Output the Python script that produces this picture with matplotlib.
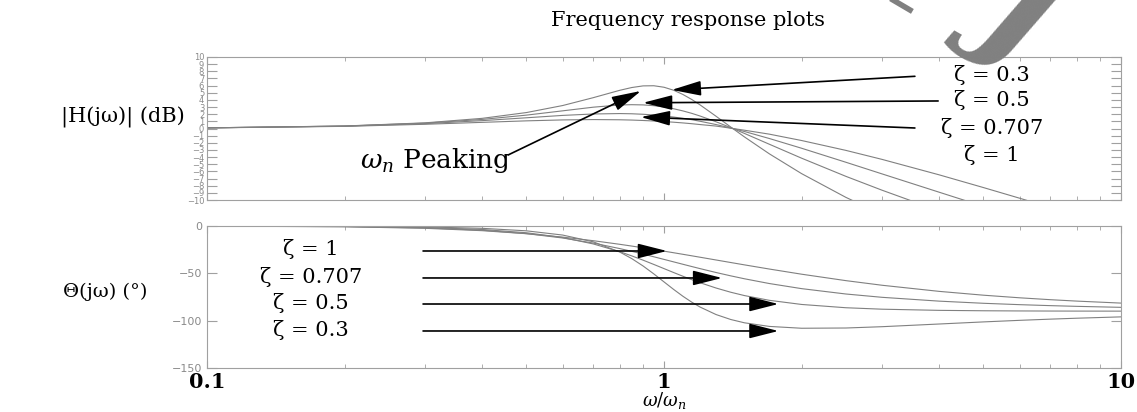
import matplotlib
matplotlib.use('Agg')
import matplotlib.pyplot as plt
from matplotlib.lines import Line2D

plt.rcParams['mathtext.fontset'] = 'dejavuserif'

# frequency ratio w/wn and the read-off curves for each damping ratio
omega = [0.1, 0.2, 0.3, 0.4, 0.5, 0.6, 0.7, 0.8, 0.85, 0.9, 0.95, 1.0, 1.05, 1.1, 1.15,
         1.2, 1.3, 1.4, 1.5, 1.7, 2.0, 2.5, 3.0, 4.0, 5.0, 6.0, 7.0, 8.0, 10.0]
zetas = ['0.3', '0.5', '0.707', '1']

mag_03 = [0.09, 0.35, 0.79, 1.42, 2.23, 3.21, 4.31, 5.34, 5.73, 5.96, 5.98, 5.77, 5.35, 4.76,
          4.06, 3.29, 1.71, 0.20, -1.18, -3.54, -6.31, -9.63, -12.00, -15.33, -17.67, -19.48,
          -20.95, -22.20, -24.25]
mag_05 = [0.09, 0.34, 0.75, 1.27, 1.87, 2.47, 2.98, 3.29, 3.33, 3.30, 3.19, 3.01, 2.76, 2.46,
          2.12, 1.74, 0.94, 0.12, -0.69, -2.20, -4.15, -6.69, -8.63, -11.52, -13.64, -15.33,
          -16.73, -17.93, -19.91]
mag_0707 = [0.09, 0.33, 0.68, 1.10, 1.50, 1.83, 2.03, 2.09, 2.06, 1.99, 1.89, 1.76, 1.60, 1.42,
            1.23, 1.01, 0.55, 0.07, -0.42, -1.40, -2.76, -4.72, -6.35, -8.91, -10.89, -12.50,
            -13.85, -15.02, -16.97]
mag_1 = [0.08, 0.30, 0.59, 0.86, 1.07, 1.20, 1.25, 1.22, 1.18, 1.12, 1.05, 0.97, 0.88, 0.78,
         0.67, 0.55, 0.34, 0.04, -0.24, -0.79, -1.68, -3.06, -4.32, -6.48, -8.26, -9.75,
         -11.03, -12.16, -14.05]

ph_03 = [-0.03, -0.28, -0.99, -2.45, -5.10, -9.56, -16.69, -27.49, -34.43, -42.25, -50.61,
         -59.04, -67.03, -74.23, -80.45, -85.68, -93.55, -98.78, -102.26, -106.07, -108.01,
         -107.75, -106.37, -103.53, -101.31, -99.65, -98.39, -97.41, -95.99]
ph_05 = [-0.06, -0.46, -1.55, -3.66, -7.13, -12.19, -18.93, -27.11, -31.56, -36.09, -40.61,
         -45.00, -49.18, -53.08, -56.68, -59.95, -65.52, -69.98, -73.50, -78.50, -82.87,
         -86.34, -87.88, -89.11, -89.54, -89.73, -89.83, -89.89, -89.94]
ph_0707 = [-0.08, -0.62, -2.01, -4.47, -8.05, -12.66, -18.03, -23.83, -26.76, -29.67, -32.52,
           -35.27, -37.91, -40.43, -42.81, -45.05, -49.13, -52.67, -55.75, -60.77, -66.16,
           -71.83, -75.33, -79.37, -81.64, -83.09, -84.12, -84.87, -85.92]
ph_1 = [-0.11, -0.82, -2.43, -4.94, -8.13, -11.73, -15.52, -19.33, -21.20, -23.03, -24.82,
        -26.57, -28.26, -29.90, -31.48, -33.01, -35.90, -38.58, -41.06, -45.46, -50.91,
        -57.71, -62.59, -69.05, -73.09, -75.84, -77.83, -79.33, -81.44]

mags = [mag_03, mag_05, mag_0707, mag_1]
phases = [ph_03, ph_05, ph_0707, ph_1]

W, H = 1137, 412
def fx(x): return x / W
def fy(y): return 1 - y / H

GREY = '#8a8a8a'
SERIF = 'DejaVu Serif'

fig = plt.figure(figsize=(W / 100, H / 100), dpi=100)
ax1 = fig.add_axes([fx(207), fy(200), (1121 - 207) / W, 143 / H])
ax2 = fig.add_axes([fx(207), fy(368), (1121 - 207) / W, 142 / H])

for m in mags:
  ax1.plot(omega, m, color='#808080', lw=0.8)
for p in phases:
  ax2.plot(omega, p, color='#808080', lw=0.8)

for ax in (ax1, ax2):
  ax.set_xscale('log')
  ax.set_xlim(0.1, 10)
  for s in ax.spines.values():
    s.set_color('#a0a0a0')
  ax.tick_params(which='both', direction='in', top=True, right=True, colors='#a0a0a0',
                 labelcolor=GREY, labelsize=8)
  ax.tick_params(axis='x', which='major', length=5)
  ax.tick_params(axis='x', which='minor', length=3)
  ax.tick_params(axis='y', which='major', length=7)

ax1.set_ylim(-10, 10)
ax1.set_yticks(range(-10, 11))
ax1.tick_params(axis='y', labelsize=6, pad=2)
ax1.set_xticks([0.1, 1, 10])
ax1.tick_params(axis='x', which='both', labelbottom=False)

ax2.set_ylim(-150, 0)
ax2.set_yticks([0, -50, -100, -150])
ax2.set_xticks([0.1, 1, 10])
ax2.set_xticklabels(['0.1', '1', '10'], fontfamily=SERIF, fontweight='bold',
                    fontsize=15, color='k')
ax2.tick_params(axis='x', which='major', labelcolor='k', pad=3)
ax2.xaxis.set_minor_formatter(plt.NullFormatter())

arrow = dict(arrowstyle='-|>,head_length=1.5,head_width=0.38', mutation_scale=12,
             color='k', lw=1.2, shrinkA=0, shrinkB=0)

# magnitude plot arrows: (tip, tail)
for tip, tail in [((1.04, 5.4), (3.54, 7.3)), ((0.90, 3.6), (3.98, 3.85)),
                  ((0.89, 1.6), (3.54, 0.07)), ((0.89, 5.25), (0.456, -3.7))]:
  ax1.annotate('', xy=tip, xytext=tail, arrowprops=arrow)

# phase plot arrows
for tip in [(1.015, -26.4), (1.34, -54.9), (1.78, -82.4), (1.78, -110.9)]:
  ax2.annotate('', xy=tip, xytext=(0.297, tip[1]), arrowprops=arrow)

fig.text(fx(688), fy(20), 'Frequency response plots', family=SERIF, fontsize=15,
         ha='center', va='center')
fig.text(fx(185), fy(117), '|H(jω)| (dB)', family=SERIF, fontsize=15, ha='right', va='center')
fig.text(fx(147), fy(292), 'Θ(jω) (°)', family=SERIF, fontsize=14, ha='right', va='center')

for z, y in zip(zetas, [75, 100, 128, 155]):
  fig.text(fx(992), fy(y), 'ζ = ' + z, family=SERIF, fontsize=15, ha='center', va='center')
for z, y in zip(['1', '0.707', '0.5', '0.3'], [249, 277, 303, 330]):
  fig.text(fx(311), fy(y), 'ζ = ' + z, family=SERIF, fontsize=15, ha='center', va='center')

fig.text(fx(436), fy(160), r'$\omega_n$ Peaking', family=SERIF, fontsize=19,
         ha='center', va='center')
fig.text(fx(664), fy(411), r'$\omega/\omega_n$', fontsize=13, ha='center', va='bottom')

# grey watermark in the top right corner
fig.text(fx(1025), fy(4), 'J', family=SERIF, style='italic', fontweight='bold', fontsize=100,
         rotation=-30, color='#808080', ha='center', va='center')
fig.add_artist(Line2D([fx(893), fx(910)], [fy(0), fy(10)], color='#808080', lw=4))

fig.savefig('out.png', dpi=100)
